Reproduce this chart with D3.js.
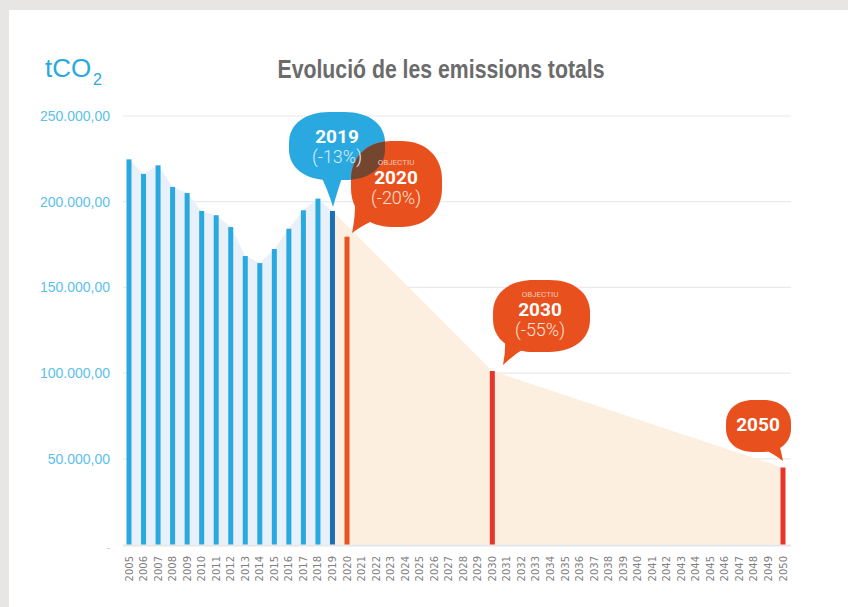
<!DOCTYPE html>
<html>
<head>
<meta charset="utf-8">
<script src="https://cdn.jsdelivr.net/npm/d3@7"></script>
<style>
  body { margin: 0; background: #e7e6e4; }
  #chart { width: 848px; height: 607px; }
</style>
</head>
<body>
<div id="chart"></div>
<script>
// data
const years = [2005, 2006, 2007, 2008, 2009, 2010, 2011, 2012, 2013, 2014, 2015, 2016, 2017, 2018, 2019,
    2020, 2021, 2022, 2023, 2024, 2025, 2026, 2027, 2028, 2029, 2030, 2031, 2032, 2033, 2034, 2035,
    2036, 2037, 2038, 2039, 2040, 2041, 2042, 2043, 2044, 2045, 2046, 2047, 2048, 2049, 2050];
const histYears = [2005, 2006, 2007, 2008, 2009, 2010, 2011, 2012, 2013, 2014, 2015, 2016, 2017, 2018, 2019];
const histValues = [224700, 216200, 221200, 208600, 205100, 194600, 192100, 185200, 168300, 164200,
    172400, 184200, 195000, 201800, 194600];
const targetYears = [2020, 2030, 2050];
const targetValues = [179600, 101200, 44900];
const pathYears = [2019, 2030, 2050];
const pathValues = [194600, 101200, 44900];
const yTicks = [0, 50000, 100000, 150000, 200000, 250000];
const bubbleYears = ["2019", "2020", "2030", "2050"];
const bubbleTags = ["", "OBJECTIU", "OBJECTIU", ""];
const bubblePcts = ["(-13%)", "(-20%)", "(-55%)", ""];

const W = 848, H = 607;
const svg = d3.select("#chart").append("svg")
    .attr("width", W)
    .attr("height", H);

// white card
svg.append("rect")
    .attr("x", 9).attr("y", 10)
    .attr("width", W - 9).attr("height", H - 10)
    .attr("fill", "#ffffff");

// scales
const x = d3.scalePoint().domain(years).range([129, 783]);
const y = d3.scaleLinear().domain([0, 250000]).range([544.5, 116]);

const loc = d3.formatLocale({ decimal: ",", thousands: ".", grouping: [3], currency: ["", "€"] });
const fmt = loc.format(",.2f");

// grid lines
svg.append("g").selectAll("line")
    .data(yTicks.filter(d => d > 0))
    .join("line")
    .attr("x1", 123).attr("x2", 791)
    .attr("y1", d => y(d)).attr("y2", d => y(d))
    .attr("stroke", "#e9e9e9")
    .attr("stroke-width", 1.2);

// y labels
svg.append("g").selectAll("text")
    .data(yTicks)
    .join("text")
    .attr("x", 110)
    .attr("y", d => y(d) + 5)
    .attr("text-anchor", "end")
    .attr("font-family", "'Liberation Sans', Arial, sans-serif")
    .attr("font-size", d => d === 0 ? 8 : 14)
    .attr("fill", d => d === 0 ? "#999" : "#5cbfec")
    .text(d => d === 0 ? "-" : fmt(d));

// areas
const area = d3.area()
    .x(d => x(d[0]))
    .y0(y(0))
    .y1(d => y(d[1]));

svg.append("path")
    .datum(pathYears.map((d, i) => [d, pathValues[i]]))
    .attr("d", area)
    .attr("fill", "#fdefdf");

svg.append("path")
    .datum(histYears.map((d, i) => [d, histValues[i]]))
    .attr("d", area)
    .attr("fill", "#e8f0fa");

// baseline
svg.append("line")
    .attr("x1", 123).attr("x2", 791)
    .attr("y1", y(0) + 1).attr("y2", y(0) + 1)
    .attr("stroke", "#e6e6e6")
    .attr("stroke-width", 2);

// bars
const bw = 5;
svg.append("g").selectAll("rect")
    .data(histYears.map((d, i) => ({ year: d, value: histValues[i] })))
    .join("rect")
    .attr("x", d => x(d.year) - bw / 2)
    .attr("y", d => y(d.value))
    .attr("width", bw)
    .attr("height", d => y(0) - y(d.value))
    .attr("fill", d => d.year === 2019 ? "#1a70b7" : "#2aa9e0");

svg.append("g").selectAll("rect")
    .data(targetYears.map((d, i) => ({ year: d, value: targetValues[i] })))
    .join("rect")
    .attr("x", d => x(d.year) - bw / 2)
    .attr("y", d => y(d.value))
    .attr("width", bw)
    .attr("height", d => y(0) - y(d.value))
    .attr("fill", d => d.year === 2020 ? "#ea5320" : "#e8352b");

// x labels
svg.append("g").selectAll("text")
    .data(years)
    .join("text")
    .attr("transform", d => "translate(" + (x(d) + 3.5) + ",556) rotate(-90)")
    .attr("text-anchor", "end")
    .attr("font-family", "'DejaVu Sans', sans-serif")
    .attr("font-size", 10)
    .attr("fill", "#808080")
    .text(d => d);

// title
svg.append("text")
    .attr("x", 441).attr("y", 78)
    .attr("text-anchor", "middle")
    .attr("font-family", "'Liberation Sans Narrow', 'Arial Narrow', sans-serif")
    .attr("font-weight", "bold")
    .attr("font-size", 25)
    .attr("textLength", 327)
    .attr("lengthAdjust", "spacingAndGlyphs")
    .attr("fill", "#6b6b6b")
    .text("Evolució de les emissions totals");

// unit
svg.append("text")
    .attr("x", 45).attr("y", 77)
    .attr("font-family", "'Liberation Sans Narrow', 'Arial Narrow', sans-serif")
    .attr("font-size", 26)
    .attr("fill", "#2aa9e0")
    .text("tCO");
svg.append("text")
    .attr("x", 93).attr("y", 85)
    .attr("font-family", "'Liberation Sans Narrow', 'Arial Narrow', sans-serif")
    .attr("font-size", 16)
    .attr("fill", "#2aa9e0")
    .text("2");

// speech bubbles
function blob(x0, y0, x1, y1, kx, ky) {
    const rx = (x1 - x0) * kx, ry = (y1 - y0) * ky, c = 0.6;
    return "M" + (x0 + rx) + "," + y0 +
        "L" + (x1 - rx) + "," + y0 +
        "C" + (x1 - rx + rx * c) + "," + y0 + " " + x1 + "," + (y0 + ry - ry * c) + " " + x1 + "," + (y0 + ry) +
        "L" + x1 + "," + (y1 - ry) +
        "C" + x1 + "," + (y1 - ry + ry * c) + " " + (x1 - rx + rx * c) + "," + y1 + " " + (x1 - rx) + "," + y1 +
        "L" + (x0 + rx) + "," + y1 +
        "C" + (x0 + rx - rx * c) + "," + y1 + " " + x0 + "," + (y1 - ry + ry * c) + " " + x0 + "," + (y1 - ry) +
        "L" + x0 + "," + (y0 + ry) +
        "C" + x0 + "," + (y0 + ry - ry * c) + " " + (x0 + rx - rx * c) + "," + y0 + " " + (x0 + rx) + "," + y0 + "Z";
}
function tail(a, tip, b) {
    return "M" + a[0] + "," + a[1] +
        "Q" + ((a[0] + tip[0]) / 2 + 2) + "," + ((a[1] + tip[1]) / 2) + " " + tip[0] + "," + tip[1] +
        "Q" + ((b[0] + tip[0]) / 2) + "," + ((b[1] + tip[1]) / 2 - 2) + " " + b[0] + "," + b[1] + "Z";
}

const bubbles = [
    { box: [289, 112, 385, 180], k: [0.42, 0.45], tail: [[318, 170], [333, 207], [344, 172]], color: "#2aa9e0" },
    { box: [351, 141, 442, 227], k: [0.45, 0.45], tail: [[355, 200], [352, 233], [375, 220]], color: "#e8501d" },
    { box: [493, 280, 590, 352], k: [0.42, 0.45], tail: [[505, 335], [503, 365], [525, 348]], color: "#e8501d" },
    { box: [726, 400, 791, 452], k: [0.42, 0.45], tail: [[762, 448], [783, 461], [779, 444]], color: "#e8501d" }
];

const defs = svg.append("defs");
const clip = defs.append("clipPath").attr("id", "clipBlue");
clip.append("path").attr("d", blob(...bubbles[0].box, ...bubbles[0].k));
clip.append("path").attr("d", tail(...bubbles[0].tail));

const gb = svg.append("g");
bubbles.forEach(b => {
    gb.append("path").attr("d", blob(...b.box, ...b.k)).attr("fill", b.color);
    gb.append("path").attr("d", tail(...b.tail)).attr("fill", b.color);
});
// overlap of the 2019 and 2020 bubbles
gb.append("path")
    .attr("d", blob(...bubbles[1].box, ...bubbles[1].k))
    .attr("clip-path", "url(#clipBlue)")
    .attr("fill", "#744630");

// bubble texts
const tx = [337, 396, 540, 758];
const tyYear = [143, 184, 316, 431];
bubbleYears.forEach((yr, i) => {
    if (bubbleTags[i]) {
        svg.append("text")
            .attr("x", tx[i]).attr("y", tyYear[i] - 19)
            .attr("text-anchor", "middle")
            .attr("font-family", "Roboto, sans-serif")
            .attr("font-size", 8)
            .attr("fill", "#f6c8b6")
            .text(bubbleTags[i]);
    }
    svg.append("text")
        .attr("x", tx[i]).attr("y", tyYear[i])
        .attr("text-anchor", "middle")
        .attr("font-family", "Roboto, sans-serif")
        .attr("font-weight", "bold")
        .attr("font-size", 19)
        .attr("fill", "#ffffff")
        .text(yr);
    if (bubblePcts[i]) {
        svg.append("text")
            .attr("x", tx[i]).attr("y", tyYear[i] + 20)
            .attr("text-anchor", "middle")
            .attr("font-family", "Roboto, sans-serif")
            .attr("font-weight", 300)
            .attr("font-size", 18)
            .attr("fill", i === 0 ? "#d9effa" : "#fbe0d4")
            .text(bubblePcts[i]);
    }
});
</script>
</body>
</html>
